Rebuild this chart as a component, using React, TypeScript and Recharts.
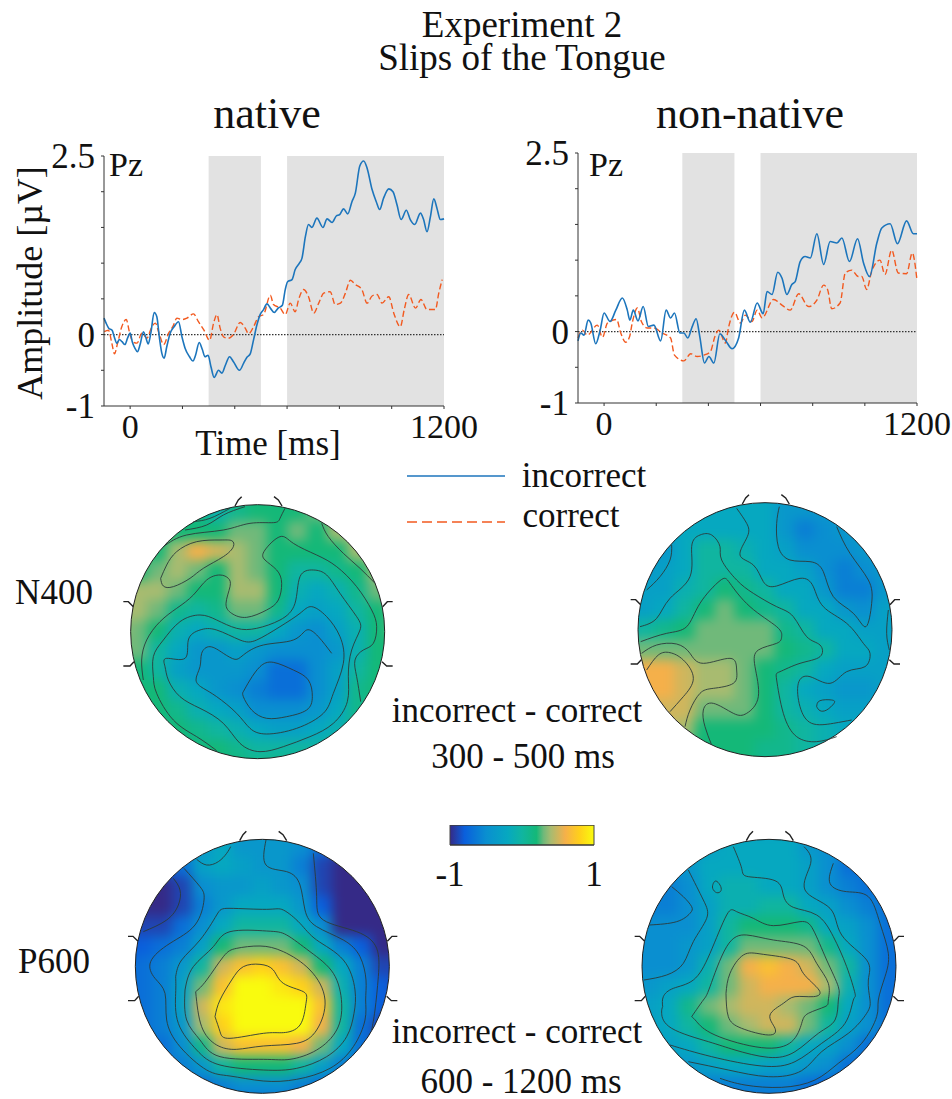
import React from 'react';
import {
  Area, AreaChart, Line, LineChart, ReferenceArea, ReferenceDot, ReferenceLine,
  Scatter, ScatterChart, XAxis, YAxis,
} from 'recharts';

const SERIF = '"Liberation Serif", serif';

// time [ms], amplitude [uV]
const nativeIncorrect = [[-100,.23],[-92,.16],[-82,.09],[-69,.06],[-61,-.03],[-51,-.12],[-41,-.07],[-31,-.10],[-20,-.14],[-10,-.05],[0,.02],[8,-.10],[18,-.19],[28,-.24],[38,-.14],[51,.04],[59,-.03],[69,-.13],[79,.02],[92,.31],[102,.25],[112,-.05],[121,-.26],[130,-.33],[140,-.17],[153,.02],[168,.11],[185,.18],[198,-.03],[210,-.19],[227,-.31],[240,-.37],[250,-.29],[264,-.11],[276,-.21],[286,-.31],[298,-.29],[309,-.45],[321,-.60],[338,-.50],[351,-.54],[364,-.43],[380,-.31],[395,-.38],[418,-.50],[434,-.40],[446,-.32],[459,-.27],[472,-.07],[485,.14],[497,.28],[510,.35],[523,.43],[538,.36],[551,.31],[566,.37],[582,.41],[593,.63],[602,.74],[619,.77],[631,.91],[647,1.0],[657,1.07],[670,1.37],[682,1.54],[695,1.50],[714,1.63],[737,1.50],[753,1.62],[772,1.57],[788,1.66],[801,1.68],[816,1.76],[832,1.69],[848,1.86],[861,1.98],[878,2.36],[893,2.43],[906,2.33],[925,2.03],[941,1.86],[954,1.75],[969,1.91],[989,2.04],[1005,2.00],[1020,1.82],[1036,1.61],[1056,1.74],[1071,1.61],[1088,1.54],[1110,1.70],[1122,1.61],[1135,1.44],[1148,1.65],[1161,1.90],[1173,1.77],[1186,1.61],[1200,1.62]];
const nativeCorrect = [[-99,.04],[-83,.06],[-70,-.12],[-60,-.27],[-48,-.12],[-32,.11],[-15,.21],[-3,.04],[10,-.10],[26,-.12],[45,.02],[64,-.05],[83,.11],[96,.16],[112,0],[128,-.14],[147,.02],[163,.11],[179,.23],[198,.21],[217,.23],[242,.29],[261,.18],[281,.07],[304,-.08],[319,.16],[332,.28],[344,.09],[360,-.04],[376,-.05],[395,0],[421,.17],[440,.09],[453,.01],[472,.11],[491,.25],[510,.28],[536,.55],[548,.42],[574,.37],[593,.28],[612,.44],[631,.32],[644,.49],[663,.63],[682,.53],[702,.30],[721,.44],[740,.58],[765,.60],[784,.42],[804,.44],[823,.58],[842,.76],[861,.70],[886,.63],[906,.44],[925,.54],[944,.56],[963,.44],[989,.53],[1008,.30],[1033,.11],[1048,.35],[1065,.56],[1091,.37],[1112,.49],[1135,.35],[1167,.35],[1180,.58],[1193,.77]];
const nonNativeIncorrect = [[-100,-.13],[-89,-.02],[-77,-.05],[-61,.16],[-51,.12],[-32,-.17],[-15,.02],[0,.26],[23,.14],[45,.30],[70,.47],[89,.30],[99,.16],[112,.30],[130,.15],[150,.35],[170,.07],[191,.09],[217,-.13],[238,.30],[255,.19],[270,.26],[291,-.02],[306,-.02],[321,-.09],[338,.07],[353,.18],[367,-.07],[385,-.44],[402,-.35],[421,-.44],[444,-.03],[465,-.12],[491,-.24],[516,-.09],[538,.30],[561,.13],[587,.40],[610,.25],[625,.56],[644,.52],[666,.83],[682,.75],[701,.52],[720,.66],[733,.70],[752,.98],[771,1.05],[791,1.03],[816,1.37],[842,.94],[867,1.26],[893,1.24],[912,1.31],[941,.98],[972,1.30],[995,.96],[1018,.77],[1046,1.24],[1065,1.45],[1097,1.51],[1125,1.23],[1160,1.55],[1186,1.37],[1200,1.37]];
const nonNativeCorrect = [[-100,-.09],[-83,.02],[-64,-.05],[-26,.09],[-6,-.08],[13,.12],[48,.17],[64,-.02],[83,-.15],[98,-.07],[108,.12],[128,.33],[143,.14],[166,.05],[191,.05],[223,-.02],[255,-.09],[270,-.33],[306,-.41],[332,-.31],[357,-.35],[383,-.33],[408,-.28],[425,-.07],[440,.02],[465,-.16],[478,.07],[500,.27],[523,.12],[542,.23],[567,.14],[587,.30],[606,.19],[650,.45],[682,.37],[714,.30],[746,.53],[784,.35],[816,.44],[842,.65],[857,.59],[873,.32],[905,.40],[925,.82],[950,.86],[975,.77],[988,.77],[1007,.59],[1026,.84],[1058,1.0],[1077,.80],[1103,1.14],[1128,.82],[1160,.81],[1182,1.10],[1199,.75]];

const xTicks = [0, 200, 400, 600, 800, 1000, 1200];
const yTicks = [-1, -0.5, 0, 0.5, 1, 1.5, 2, 2.5];
const windows = [[300, 500], [600, 1200]];

// colour map of the scalp plots: level 0 (-1) to level 20 (+1)
const colorStops: [number, string][] = [
  [0, '#352a87'], [2, '#0a5fdc'], [5, '#0a8fd0'], [8, '#06a8c0'], [10, '#10b5a0'], [12, '#14b878'],
  [13, '#70b97a'], [14, '#a8bb70'], [16, '#f5b04a'], [18, '#ffd01a'], [20, '#f9fb0e'],
];

// scalp levels on a 15 x 15 grid around the head centre
const n400NativeLevels = [
  [12,12,12,12,12,12,12,12,12,12,12,12,12,12,12],
  [12,12,12,12,11,9,11,12,12,12,13,13,13,13,13],
  [12,12,12,12,12,12,13,13,12,13,12,14,14,14,14],
  [13,13,12,14,16,15,14,13,12,12,12,12,14,14,14],
  [13,12,13,14,13,12,14,13,12,10,10,11,12,14,14],
  [14,14,14,13,12,12,14,14,12,9,8,9,11,13,13],
  [14,14,13,11,10,11,13,13,11,8,7,8,10,12,13],
  [14,13,12,9,8,9,10,10,8,6,5,7,9,12,13],
  [13,13,10,8,6,6,7,6,5,5,5,6,9,12,12],
  [12,12,10,7,6,6,6,5,3,3,5,7,10,12,12],
  [12,12,12,9,8,6,5,4,3,3,5,7,11,12,12],
  [12,12,12,11,9,8,7,5,5,5,6,8,11,12,12],
  [12,12,12,12,11,10,9,8,7,7,8,9,11,12,12],
  [12,12,12,12,12,12,11,10,10,10,10,11,12,12,12],
  [12,12,12,12,12,12,12,12,12,12,12,12,12,12,12],
];
const n400NonNativeLevels = [
  [8,8,8,8,8,8,8,8,8,8,8,8,8,8,8],
  [8,8,8,8,8,8,8,8,6,6,6,7,7,7,7],
  [7,7,7,8,8,8,8,8,6,4,5,6,7,7,7],
  [6,6,6,8,10,10,9,8,7,5,5,5,6,7,7],
  [6,6,7,8,10,10,10,8,8,7,5,4,5,6,7],
  [7,7,7,9,10,12,11,10,8,8,6,4,4,6,7],
  [7,7,8,10,12,13,12,11,10,8,8,6,5,7,7],
  [9,10,11,12,13,13,13,13,11,10,8,8,7,7,7],
  [13,13,13,13,13,13,13,13,12,11,10,8,8,7,7],
  [16,16,16,15,14,14,13,12,11,10,8,7,7,7,7],
  [16,16,16,15,14,14,13,12,10,8,7,6,6,7,7],
  [15,15,15,15,13,13,13,12,10,9,8,7,7,7,7],
  [15,15,15,14,12,12,12,12,11,10,9,8,8,8,8],
  [12,12,12,12,12,12,12,11,11,10,9,9,9,9,9],
  [12,12,12,12,12,12,12,11,11,10,9,9,9,9,9],
];
const p600NativeLevels = [
  [6,6,6,6,6,6,6,6,6,6,6,6,6,6,6],
  [5,5,5,5,6,8,6,6,6,5,3,1,1,1,1],
  [1,1,2,3,7,8,7,6,6,4,1,0,0,0,0],
  [0,0,0,1,5,6,6,7,6,5,1,0,0,0,0],
  [0,0,0,1,4,6,8,8,8,6,2,0,0,0,0],
  [1,1,1,3,5,8,10,10,10,8,5,0,0,0,0],
  [2,2,3,4,7,12,13,13,13,12,8,4,2,0,0],
  [3,3,4,6,10,15,17,18,17,15,12,8,4,1,1],
  [3,3,4,7,13,17,20,20,19,18,15,9,4,2,1],
  [3,3,4,7,15,19,20,20,20,20,17,10,4,2,1],
  [3,3,4,6,14,18,20,20,20,20,16,10,3,1,1],
  [3,3,3,5,11,15,17,17,17,16,13,8,3,1,1],
  [3,3,3,4,6,10,12,12,12,10,7,4,2,1,1],
  [2,2,2,3,3,4,5,5,5,4,3,2,1,1,1],
  [2,2,2,2,2,2,2,2,2,2,2,2,2,2,2],
];
const p600NonNativeLevels = [
  [7,7,7,7,7,7,7,7,7,7,7,7,7,7,7],
  [6,6,6,6,7,8,8,8,8,6,5,4,4,4,4],
  [5,5,5,6,8,8,8,8,8,7,5,3,3,3,3],
  [4,4,4,5,8,9,9,8,8,7,5,4,3,3,3],
  [4,4,4,5,7,9,9,10,10,8,7,5,4,3,3],
  [5,5,5,5,7,10,12,12,12,11,8,7,5,3,3],
  [5,5,5,6,7,10,13,13,13,13,11,8,5,3,3],
  [5,5,5,6,9,13,16,17,16,15,13,10,5,3,3],
  [6,6,7,8,10,13,15,16,16,16,14,9,5,3,3],
  [7,7,8,11,13,14,15,15,14,13,12,8,5,3,2],
  [7,7,8,10,12,13,14,15,15,13,10,7,5,3,2],
  [7,7,7,8,10,12,12,12,10,8,7,5,3,2,2],
  [6,6,6,6,7,8,8,7,7,6,5,3,2,2,2],
  [4,4,4,4,4,4,4,4,4,3,2,2,2,2,2],
  [3,3,3,3,3,3,3,3,3,3,3,3,3,3,3],
];

// contour lines, in scalp plot units
const n400NativeContours = [
  [[225,150],[290,135],[340,105],[405,80]],
  [[250,125],[300,115],[360,85]],
  [[160,200],[230,165],[340,150],[420,130],[490,128],[510,115],[525,85]],
  [[152,295],[170,255],[200,215],[260,185],[330,180],[365,182],[370,200],[340,230],[280,265],[240,295],[190,320],[160,318],[152,295]],
  [[635,130],[655,170],[700,220],[750,265],[795,310]],
  [[100,600],[95,540],[110,480],[150,425],[200,385],[250,345],[290,300],[330,285],[355,295],[360,320],[348,370],[365,400],[410,412],[470,390],[505,360],[515,310],[500,270],[465,240],[465,210],[510,170],[550,190],[620,225],[680,260],[740,320],[785,390],[800,440],[790,490],[760,510],[735,540],[740,590],[752,665]],
  [[320,812],[260,770],[190,720],[140,640],[130,590],[130,530],[160,480],[210,425],[270,405],[320,420],[380,445],[440,445],[510,420],[555,370],[570,290],[610,270],[650,285],[690,340],[740,410],[750,450],[725,510],[715,590],[712,665],[670,730],[600,770],[520,800],[450,815],[390,790],[340,730],[270,685],[210,650],[175,600],[165,560],[170,535],[225,535],[235,480],[270,450],[320,450],[390,480],[440,480],[510,440],[570,400],[605,380],[650,410],[690,470],[700,550],[670,640],[640,700],[560,745],[470,762],[420,745],[380,700],[320,650],[280,625],[258,600],[270,560],[275,520],[300,500],[340,520],[375,538],[400,525],[460,495],[550,480],[590,450],[625,470],[665,520]],
  [[400,635],[420,600],[450,560],[490,547],[550,570],[595,600],[607,650],[590,690],[530,710],[470,715],[425,690],[400,650],[400,635]],
];
const n400NonNativeContours = [
  [[350,85],[380,130],[382,170],[360,225],[400,255],[430,305],[470,318],[540,295],[580,320],[610,380],[680,430],[730,490],[750,520],[735,560],[680,575],[630,610],[570,590],[535,610],[540,680],[575,730],[640,730],[695,720]],
  [[478,80],[470,130],[475,200],[510,240],[570,245],[610,275],[640,350],[700,400],[738,440],[755,370],[745,300],[690,220],[650,140]],
  [[590,680],[600,662],[635,660],[642,670],[620,690],[600,692],[590,680]],
  [[155,195],[150,240],[120,290],[80,330]],
  [[60,440],[110,415],[150,355],[210,290],[215,200],[240,165],[275,165],[300,200],[305,240],[350,300],[400,340],[470,380],[520,410],[560,470],[600,495],[600,530],[540,550],[480,575],[470,600],[490,700],[530,770],[590,785],[650,770]],
  [[62,485],[140,460],[200,440],[240,370],[300,302],[330,310],[390,380],[470,440],[485,470],[470,490],[415,510],[405,560],[415,650],[380,700],[340,700],[280,670],[250,690],[255,740],[275,795]],
  [[65,520],[110,495],[170,492],[210,520],[250,550],[330,535],[350,570],[340,610],[280,625],[240,640],[210,690],[195,740]],
  [[80,570],[115,525],[150,518],[190,540],[220,595],[190,650],[150,695]],
  [[805,390],[800,460],[808,510]],
];
const p600NativeContours = [
  [[260,118],[290,135],[325,125],[350,100],[362,80]],
  [[100,335],[170,300],[205,255],[210,210],[190,175]],
  [[222,145],[270,200],[282,240],[255,315],[180,370],[122,425],[135,475],[165,520],[170,600],[210,680],[290,750],[360,768],[460,783],[560,778],[660,745],[730,680],[765,600],[767,540],[768,480],[750,410],[700,360],[620,320],[585,270],[570,195],[530,155],[468,135],[468,60]],
  [[610,100],[620,230],[640,300],[740,335],[800,385],[805,470],[795,570],[785,630]],
  [[197,470],[215,420],[270,360],[320,285],[360,265],[470,268],[520,270],[570,310],[620,360],[700,420],[735,510],[732,580],[710,650],[650,710],[560,745],[460,750],[330,735],[260,690],[205,610],[197,520],[197,470]],
  [[225,510],[250,440],[310,380],[360,335],[470,333],[530,345],[600,395],[670,460],[695,550],[680,630],[620,690],[540,718],[460,718],[330,710],[270,660],[230,600],[225,510]],
  [[257,515],[290,480],[340,410],[380,385],[450,378],[520,395],[600,450],[645,540],[620,630],[560,670],[460,678],[380,688],[320,675],[275,620],[257,515]],
  [[315,590],[330,540],[365,480],[400,440],[450,433],[490,450],[520,490],[580,515],[588,550],[570,615],[520,638],[460,640],[360,655],[330,635],[315,590]],
];
const p600NonNativeContours = [
  [[88,315],[170,305],[210,280],[215,260],[190,230],[155,200]],
  [[205,150],[250,240],[260,295],[220,365],[190,430],[140,465],[72,480]],
  [[280,190],[288,183],[300,195],[303,212],[290,218],[278,205],[280,190]],
  [[340,80],[365,145],[385,170],[465,182],[490,225],[520,262],[590,285],[640,350],[680,440],[705,520],[700,540],[675,610],[605,670],[525,725],[425,738],[275,710],[150,675]],
  [[552,80],[572,130],[555,210],[630,265],[665,345],[740,420],[745,480],[750,540],[740,580],[685,640],[605,695],[545,752],[445,770],[325,750],[205,725]],
  [[640,130],[630,190],[680,215],[745,230],[780,310],[805,400],[795,470],[775,540],[770,590],[725,670],[655,730],[585,780],[485,802],[375,795],[300,775]],
  [[128,560],[130,530],[160,505],[220,480],[270,400],[320,285],[350,275],[400,295],[460,317],[540,305],[580,330],[620,420],[655,500],[655,540],[645,600],[595,640],[525,695],[445,712],[345,690],[265,665],[155,625],[125,580],[128,560]],
  [[215,590],[250,540],[270,500],[320,380],[380,345],[460,360],[550,378],[590,430],[625,490],[625,540],[615,560],[565,580],[545,610],[515,665],[425,683],[285,645],[230,605],[215,590]],
  [[318,520],[330,460],[370,405],[430,403],[520,420],[550,460],[597,510],[580,530],[525,530],[490,550],[450,585],[465,625],[445,645],[365,625],[325,590],[318,520]],
];

// little marks round the head, relative to its centre
const headMarks = [
  [[-48,-405],[-58,-395],[-68,-377]],
  [[49,-405],[62,-395],[73,-377]],
  [[-403,-90],[-388,-90],[-373,-75]],
  [[-403,103],[-383,103],[-371,90]],
  [[405,-90],[389,-90],[375,-75]],
  [[405,103],[387,103],[373,90]],
];

const hexToRgb = (hex: string) => [1, 3, 5].map((i) => parseInt(hex.slice(i, i + 2), 16));

const levelColor = (level: number) => {
  for (let i = 1; i < colorStops.length; i++) {
    const [l0, c0] = colorStops[i - 1];
    const [l1, c1] = colorStops[i];
    if (level <= l1) {
      const t = (level - l0) / (l1 - l0);
      const a = hexToRgb(c0);
      const b = hexToRgb(c1);
      return `rgb(${a.map((v, k) => Math.round(v + (b[k] - v) * t)).join(',')})`;
    }
  }
  return colorStops[colorStops.length - 1][1];
};

const toPoints = (pairs: number[][]) => pairs.map(([t, v]) => ({ t, v }));
const toXY = (pairs: number[][]) => pairs.map(([x, y]) => ({ x, y }));

const Label: React.FC<{ x: number; y: number; size: number; children: React.ReactNode }> = ({ x, y, size, children }) => (
  <div
    style={{
      position: 'absolute', left: x, top: y - size / 2, width: 0, height: size, lineHeight: 1, display: 'flex',
      justifyContent: 'center', alignItems: 'center', whiteSpace: 'nowrap', fontFamily: SERIF, fontSize: size, color: '#111',
    }}
  >
    <span>{children}</span>
  </div>
);

interface ErpProps {
  left: number;
  top: number;
  incorrect: number[][];
  correct: number[][];
  margin: { top: number; right: number; bottom: number; left: number };
}

const ErpPlot: React.FC<ErpProps> = ({ left, top, incorrect, correct, margin }) => (
  <div style={{ position: 'absolute', left, top }}>
    <LineChart width={480} height={340} margin={margin}>
      <XAxis
        dataKey="t" type="number" domain={[-100, 1200]} ticks={xTicks} allowDuplicatedCategory={false}
        tickFormatter={(t) => (t === 0 || t === 1200 ? String(t) : '')} interval={0}
        tick={{ fontFamily: SERIF, fontSize: 34, fill: '#111' }} tickSize={3} tickMargin={5} stroke="#333" height={30}
      />
      <YAxis
        dataKey="v" type="number" domain={[-1, 2.5]} ticks={yTicks} allowDataOverflow interval={0}
        tickFormatter={(v) => (v === 2.5 || v === 0 || v === -1 ? String(v) : '')}
        tick={{ fontFamily: SERIF, fontSize: 35, fill: '#111' }} tickSize={3} tickMargin={6} stroke="#333" width={60}
      />
      {windows.map(([x1, x2]) => (
        <ReferenceArea key={x1} x1={x1} x2={x2} y1={-1} y2={2.5} fill="#e2e2e2" fillOpacity={1} stroke="none" />
      ))}
      <ReferenceLine y={0} stroke="#333" strokeWidth={1.3} strokeDasharray="1.5 1.5" />
      <Line data={toPoints(correct)} dataKey="v" type="monotone" stroke="#f2591f" strokeWidth={1.4} strokeDasharray="6 3" dot={false} isAnimationActive={false} />
      <Line data={toPoints(incorrect)} dataKey="v" type="monotone" stroke="#1c75bc" strokeWidth={1.6} dot={false} isAnimationActive={false} />
    </LineChart>
  </div>
);

interface TopoProps {
  left: number;
  top: number;
  cx: number;
  cy: number;
  levels: number[][];
  contours: number[][][];
}

const PLOT_W = 300;
const PLOT_H = 290;

const plotAxes = [
  <XAxis key="x" dataKey="x" type="number" domain={[0, 900]} hide />,
  <YAxis key="y" dataKey="y" type="number" domain={[0, 870]} reversed hide />,
];

const Topomap: React.FC<TopoProps> = ({ left, top, cx, cy, levels, contours }) => {
  const cells = levels.flatMap((row, i) => row.map((level, j) => ({ x: cx + (j - 7) * 60, y: cy + (i - 7) * 60, fill: levelColor(level) })));
  const marks = headMarks.map((m) => m.map(([dx, dy]) => [cx + dx, cy + dy]));
  return (
    <div style={{ position: 'absolute', left, top, width: PLOT_W, height: PLOT_H }}>
      <div style={{ position: 'absolute', inset: 0, filter: 'blur(6px)', clipPath: `circle(127px at ${cx / 3}px ${cy / 3}px)` }}>
        <ScatterChart width={PLOT_W} height={PLOT_H} margin={{ top: 0, right: 0, bottom: 0, left: 0 }}>
          {plotAxes}
          <Scatter
            data={cells} isAnimationActive={false}
            shape={(p: any) => <rect x={p.cx - 10.5} y={p.cy - 10.5} width={21} height={21} fill={p.payload.fill} />}
          />
        </ScatterChart>
      </div>
      <div style={{ position: 'absolute', inset: 0 }}>
        <ScatterChart width={PLOT_W} height={PLOT_H} margin={{ top: 0, right: 0, bottom: 0, left: 0 }}>
          {plotAxes}
          <ReferenceDot x={cx} y={cy} r={127} fill="none" stroke="#222" strokeWidth={1} />
          {contours.map((c, i) => (
            <Scatter key={i} data={toXY(c)} line={{ stroke: '#2b3a3a', strokeWidth: 0.9 }} lineJointType="natural" shape={() => <g />} isAnimationActive={false} />
          ))}
          {marks.map((m, i) => (
            <Scatter key={`m${i}`} data={toXY(m)} line={{ stroke: '#222', strokeWidth: 1.4 }} shape={() => <g />} isAnimationActive={false} />
          ))}
        </ScatterChart>
      </div>
    </div>
  );
};

const colorbarData = [{ x: -1, y: 1 }, { x: 1, y: 1 }];

const Colorbar: React.FC = () => (
  <div style={{ position: 'absolute', left: 420, top: 825 }}>
    <AreaChart width={204} height={72} data={colorbarData} margin={{ top: 0, right: 30, bottom: 0, left: 30 }}>
      <defs>
        <linearGradient id="scalpScale" x1="0" y1="0" x2="1" y2="0">
          {colorStops.map(([level, color]) => (
            <stop key={level} offset={level / 20} stopColor={color} />
          ))}
        </linearGradient>
      </defs>
      <XAxis
        dataKey="x" type="number" domain={[-1, 1]} ticks={[-1, -0.5, 0, 0.5, 1]} height={52}
        tickFormatter={(v) => (v === -1 || v === 1 ? String(v) : '')} interval={0}
        tick={{ fontFamily: SERIF, fontSize: 35, fill: '#111' }} tickSize={0} tickMargin={16} stroke="#333"
      />
      <YAxis type="number" domain={[0, 1]} hide />
      <Area dataKey="y" type="linear" fill="url(#scalpScale)" fillOpacity={1} stroke="#333" strokeWidth={1} isAnimationActive={false} />
      <ReferenceArea x1={-1} x2={1} y1={0} y2={1} fill="none" stroke="#444" />
    </AreaChart>
  </div>
);

export default function App() {
  return (
    <div style={{ position: 'absolute', left: 0, top: 0, width: 952, height: 1099, overflow: 'hidden', background: '#fff' }}>
      <div style={{ position: 'absolute', left: 322, top: 8, width: 400, textAlign: 'center', fontFamily: SERIF, fontSize: 37, lineHeight: '33px', color: '#111' }}>
        Experiment 2<br />Slips of the Tongue
      </div>
      <Label x={267} y={114} size={44}>native</Label>
      <Label x={750} y={114} size={44}>non-native</Label>

      <ErpPlot left={0} top={130} incorrect={nativeIncorrect} correct={nativeCorrect} margin={{ top: 26, right: 36, bottom: 34, left: 44 }} />
      <ErpPlot left={472} top={127} incorrect={nonNativeIncorrect} correct={nonNativeCorrect} margin={{ top: 26, right: 35, bottom: 34, left: 46 }} />

      <Label x={126} y={165} size={34}>Pz</Label>
      <Label x={606} y={165} size={34}>Pz</Label>
      <div style={{ position: 'absolute', left: 30, top: 283, width: 0, height: 0, display: 'flex', justifyContent: 'center', alignItems: 'center', whiteSpace: 'nowrap', fontFamily: SERIF, fontSize: 36, color: '#111', transform: 'rotate(-90deg)' }}>
        <span>Amplitude [µV]</span>
      </div>
      <Label x={268} y={443} size={35}>Time [ms]</Label>

      <svg style={{ position: 'absolute', left: 400, top: 465 }} width={115} height={65}>
        <line x1={7} y1={11} x2={105} y2={11} stroke="#1c75bc" strokeWidth={1.6} />
        <line x1={7} y1={57} x2={105} y2={57} stroke="#f2591f" strokeWidth={1.4} strokeDasharray="10 5" />
      </svg>
      <Label x={584} y={475} size={35}>incorrect</Label>
      <Label x={571} y={515} size={35}>correct</Label>

      <Label x={54} y={592} size={35}>N400</Label>
      <Label x={54} y={961} size={35}>P600</Label>

      <Topomap left={110} top={480} cx={443} cy={455} levels={n400NativeLevels} contours={n400NativeContours} />
      <Topomap left={620} top={480} cx={435} cy={449} levels={n400NonNativeLevels} contours={n400NonNativeContours} />
      <Topomap left={110} top={820} cx={457} cy={439} levels={p600NativeLevels} contours={p600NativeContours} />
      <Topomap left={620} top={820} cx={447} cy={439} levels={p600NonNativeLevels} contours={p600NonNativeContours} />

      <Label x={517} y={710} size={35}>incorrect - correct</Label>
      <Label x={523} y={756} size={35}>300 - 500 ms</Label>
      <Colorbar />
      <Label x={517} y={1031} size={35}>incorrect - correct</Label>
      <Label x={521} y={1081} size={35}>600 - 1200 ms</Label>
    </div>
  );
}
